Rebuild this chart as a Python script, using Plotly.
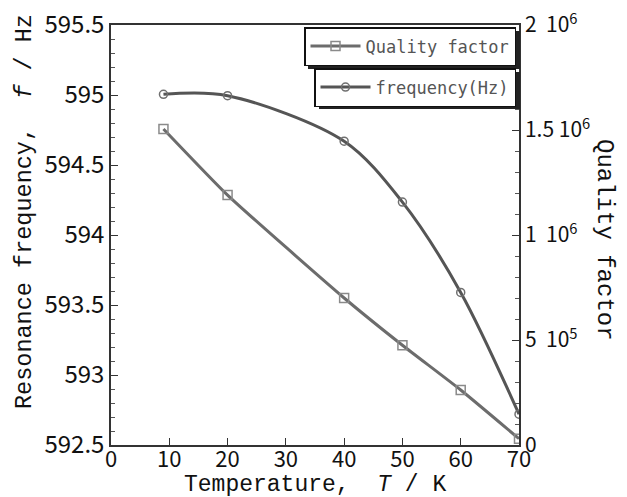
import plotly.graph_objects as go

# ---- data ----
temperature_K = [9, 20, 40, 50, 60, 70]
frequency_Hz = [595.005, 594.995, 594.67, 594.235, 593.59, 592.72]
quality_factor = [1.505e6, 1.19e6, 0.70e6, 0.475e6, 0.262e6, 0.03e6]

x_ticks = [0, 10, 20, 30, 40, 50, 60, 70]
left_ticks = [592.5, 593, 593.5, 594, 594.5, 595, 595.5]
left_ticktext = ["592.5", "593", "593.5", "594", "594.5", "595", "595.5"]
right_ticks = [0, 5e5, 1e6, 1.5e6, 2e6]
right_ticktext = ["0", "5\u00a0\u00a010<sup>5</sup>", "1\u00a0\u00a010<sup>6</sup>",
                  "1.5\u00a010<sup>6</sup>", "2\u00a0\u00a010<sup>6</sup>"]

W, H = 627, 497
ML, MR, MT, MB = 111, 108, 25, 52
PW, PH = W - ML - MR, H - MT - MB


def px2x(p):
    return (p - ML) / PW


def px2y(p):
    return (H - MB - p) / PH


tick_font = dict(family="Noto Sans CJK JP, sans-serif", size=24, color="#111")
title_font = dict(family="Liberation Mono, DejaVu Sans Mono, monospace", size=23, color="#111")
legend_font = dict(family="DejaVu Sans Mono, monospace", size=17, color="#555")

fig = go.Figure()
fig.add_trace(go.Scatter(
    x=temperature_K, y=quality_factor, name="Quality factor", yaxis="y2",
    mode="lines+markers", line=dict(color="#6c6c6c", width=3, shape="spline", smoothing=0.5),
    marker=dict(symbol="square-open", size=9, color="#8a8a8a", line=dict(width=1.5)),
    legend="legend",
))
fig.add_trace(go.Scatter(
    x=temperature_K, y=frequency_Hz, name="frequency(Hz)", yaxis="y",
    mode="lines+markers", line=dict(color="#555555", width=3, shape="spline", smoothing=0.9),
    marker=dict(symbol="circle-open", size=8, color="#707070", line=dict(width=1.5)),
    legend="legend2",
))

axis_line = dict(showline=True, linecolor="#333", linewidth=1.5, showgrid=False,
                 zeroline=False, automargin=False)

# legend drop shadows (decoration)
shadows = [
    dict(x0=308, x1=520, y0=31, y1=69),
    dict(x0=319, x1=520, y0=72, y1=109),
]
shapes = [dict(type="rect", xref="paper", yref="paper", x0=px2x(s["x0"]), x1=px2x(s["x1"]),
               y0=px2y(s["y1"]), y1=px2y(s["y0"]), fillcolor="#222", line=dict(width=0),
               layer="above") for s in shadows]

fig.update_layout(
    width=W, height=H, margin=dict(l=ML, r=MR, t=MT, b=MB, autoexpand=False),
    paper_bgcolor="white", plot_bgcolor="white",
    xaxis=dict(range=[0, 70], tickvals=x_ticks, ticks="inside", ticklen=7, tickcolor="#333",
               tickfont=dict(tick_font, size=22), ticklabelstandoff=-6, mirror=True, **axis_line),
    yaxis=dict(range=[592.5, 595.5], tickvals=left_ticks, ticktext=left_ticktext,
               ticks="inside", ticklen=7, tickcolor="#333", tickfont=tick_font,
               minor=dict(dtick=0.1, ticks="inside", ticklen=4, tickcolor="#555"), **axis_line),
    yaxis2=dict(range=[0, 2e6], overlaying="y", side="right", tickvals=right_ticks,
                ticktext=right_ticktext, ticks="inside", ticklen=7, tickcolor="#333",
                tickfont=dict(family="Noto Sans CJK JP, sans-serif", size=21, color="#111"),
                minor=dict(dtick=1e5, ticks="inside", ticklen=4, tickcolor="#555"), **axis_line),
    legend=dict(x=px2x(516), y=px2y(27), xanchor="right", yanchor="top", bgcolor="white",
                bordercolor="#111", borderwidth=1.5, font=legend_font, itemwidth=50),
    legend2=dict(x=px2x(516), y=px2y(68), xanchor="right", yanchor="top", bgcolor="white",
                 bordercolor="#111", borderwidth=1.5, font=legend_font, itemwidth=50),
    showlegend=True,
    shapes=shapes,
    annotations=[
        dict(text="Temperature,  <i>T</i> / K", xref="paper", yref="paper", x=0.5, y=px2y(470),
             xanchor="center", yanchor="top", showarrow=False, font=title_font),
        dict(text="Resonance frequency,  <i>f</i> / Hz", xref="paper", yref="paper",
             x=px2x(24), y=px2y(212), textangle=-90, xanchor="center", yanchor="middle",
             showarrow=False, font=dict(title_font, size=23.5)),
        dict(text="Quality factor", xref="paper", yref="paper", x=px2x(604), y=px2y(240),
             textangle=90, xanchor="center", yanchor="middle", showarrow=False,
             font=dict(title_font, size=24)),
    ],
)

fig.write_html("out.html")
